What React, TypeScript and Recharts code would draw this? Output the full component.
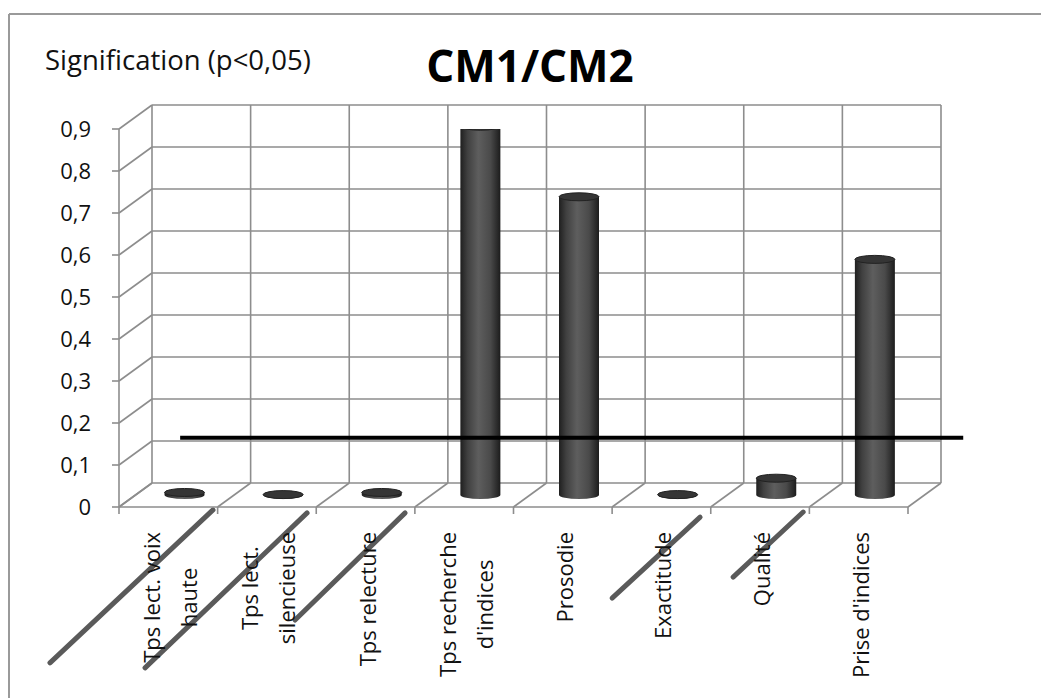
import React from 'react';
import { ComposedChart, Bar, XAxis, YAxis, CartesianGrid, ReferenceLine } from 'recharts';

// ---------- data ----------
const categoryLines: string[][] = [
  ['Tps lect. voix', 'haute'],
  ['Tps lect.', 'silencieuse'],
  ['Tps relecture'],
  ['Tps recherche', "d'indices"],
  ['Prosodie'],
  ['Exactitude'],
  ['Qualité'],
  ["Prise d'indices"],
];
const categories = categoryLines.map((l) => l.join(' '));
const values = [0.006, 0.001, 0.006, 0.878, 0.71, 0.001, 0.04, 0.561];
const yTicks = [0, 0.1, 0.2, 0.3, 0.4, 0.5, 0.6, 0.7, 0.8, 0.9];
const boundaryTicks = [0, 1, 2, 3, 4, 5, 6, 7, 8];
const positions = [0.5, 1.5, 2.5, 3.5, 4.5, 5.5, 6.5, 7.5];
const threshold = { y: 0.165, from: 0.62, to: 8.56 };
const strikeLines = [
  { x1: 0.953, y1: -0.007, x2: -0.7, y2: -0.371 },
  { x1: 1.907, y1: -0.014, x2: 0.264, y2: -0.383 },
  { x1: 2.901, y1: -0.014, x2: 1.785, y2: -0.269 },
  { x1: 5.892, y1: -0.024, x2: 5.0, y2: -0.217 },
  { x1: 6.937, y1: -0.012, x2: 6.227, y2: -0.167 },
];
const title = 'CM1/CM2';
const yTitle = 'Signification (p<0,05)';

const data = categories.map((name, i) => ({ name, pos: positions[i], value: values[i] }));

// ---------- style ----------
const W = 1041;
const H = 698;
const DX = 33;
const DY = -24;
const GRID = '#8d8d8d';
const FONT = "'Open Sans', 'DejaVu Sans', sans-serif";
const LABEL_SIZE = 22;
const NUM_AXIS = 'a_num';
const CAT_AXIS = 'b_cat';

let measureCtx: CanvasRenderingContext2D | null = null;
function textWidth(s: string): number {
  try {
    if (!measureCtx) measureCtx = document.createElement('canvas').getContext('2d');
    if (measureCtx) {
      measureCtx.font = `${LABEL_SIZE}px 'Open Sans'`;
      return measureCtx.measureText(s).width;
    }
  } catch (e) {}
  return s.length * LABEL_SIZE * 0.5;
}

const HLine = (p: any) => {
  const { x1, y1, x2, y2 } = p;
  return (
    <g key={p.key}>
      <line x1={x1 + DX} y1={y1 + DY} x2={x2 + DX} y2={y2 + DY} stroke={GRID} strokeWidth={1.6} />
      <line x1={x1} y1={y1} x2={x1 + DX} y2={y1 + DY} stroke={GRID} strokeWidth={1.6} />
    </g>
  );
};

const VLine = (p: any) => {
  const { x1, y1, x2, y2 } = p;
  return (
    <g key={p.key}>
      <line x1={x1 + DX} y1={y1 + DY} x2={x2 + DX} y2={y2 + DY} stroke={GRID} strokeWidth={1.6} />
      <line x1={x2} y1={y2} x2={x2 + DX} y2={y2 + DY} stroke={GRID} strokeWidth={1.6} />
    </g>
  );
};

const Cylinder = (props: any) => {
  const { x, y, width, height, index } = props;
  const cx = x + width / 2 + DX / 2;
  const rx = width / 2;
  const ry = 4;
  const top = y + DY / 2;
  const bottom = y + height + DY / 2;
  const id = `cyl-grad-${index}`;
  return (
    <g>
      <defs>
        <linearGradient id={id} x1="0" y1="0" x2="1" y2="0">
          <stop offset="0%" stopColor="#1f1f1f" />
          <stop offset="18%" stopColor="#404040" />
          <stop offset="45%" stopColor="#5e5e5e" />
          <stop offset="75%" stopColor="#4a4a4a" />
          <stop offset="100%" stopColor="#1c1c1c" />
        </linearGradient>
      </defs>
      <path
        d={`M${cx - rx},${top} L${cx - rx},${bottom} A${rx},${ry} 0 0 0 ${cx + rx},${bottom} L${cx + rx},${top} Z`}
        fill={`url(#${id})`}
      />
      <ellipse cx={cx} cy={top} rx={rx} ry={ry} fill="#353535" stroke="#222" strokeWidth={1} />
    </g>
  );
};

const CategoryTick = (props: any) => {
  const { x, y, payload } = props;
  const idx = categories.indexOf(payload.value);
  const lines = idx >= 0 ? categoryLines[idx] : [String(payload.value)];
  const top = y + 15;
  const maxW = Math.max(...lines.map(textWidth));
  const centerY = top + maxW / 2;
  const n = lines.length;
  return (
    <g>
      {lines.map((line, i) => {
        const colX = x + 3 + (i - (n - 1) / 2) * 37 + 7;
        return (
          <text
            key={i}
            transform={`translate(${colX},${centerY}) rotate(-90)`}
            textAnchor="middle"
            fontSize={LABEL_SIZE}
            fontFamily={FONT}
            fill="#111"
          >
            {line}
          </text>
        );
      })}
    </g>
  );
};

export default function App() {
  return (
    <div style={{ position: 'absolute', left: 0, top: 0, width: W, height: H, background: '#fff' }}>
      <ComposedChart
        width={W}
        height={H}
        data={data}
        margin={{ top: 129, right: 133, bottom: 0, left: 0 }}
      >
        <CartesianGrid xAxisId={NUM_AXIS} horizontal={HLine} vertical={VLine} />
        <XAxis
          xAxisId={NUM_AXIS}
          type="number"
          dataKey="pos"
          domain={[0, 8]}
          ticks={boundaryTicks}
          tickFormatter={() => ''}
          height={10}
          tickSize={7}
          stroke={GRID}
          axisLine={{ stroke: GRID, strokeWidth: 1.6 }}
          tickLine={{ stroke: GRID, strokeWidth: 1.6 }}
        />
        <XAxis
          xAxisId={CAT_AXIS}
          dataKey="name"
          type="category"
          height={181}
          axisLine={false}
          tickLine={false}
          tickSize={0}
          tickMargin={0}
          interval={0}
          tick={<CategoryTick />}
        />
        <YAxis
          width={119}
          domain={[0, 0.9]}
          ticks={yTicks}
          tickSize={7}
          tickMargin={21}
          tickFormatter={(v: number) => String(v).replace('.', ',')}
          tick={{ fontSize: 22, fontFamily: FONT, fill: '#111' }}
          axisLine={{ stroke: GRID, strokeWidth: 1.6 }}
          tickLine={{ stroke: GRID, strokeWidth: 1.6 }}
          allowDataOverflow
        />
        <Bar
          xAxisId={CAT_AXIS}
          dataKey="value"
          barSize={40}
          fill="#4a4a4a"
          shape={<Cylinder />}
          isAnimationActive={false}
        />
        <ReferenceLine
          xAxisId={NUM_AXIS}
          segment={[{ x: threshold.from, y: threshold.y }, { x: threshold.to, y: threshold.y }]}
          stroke="#000"
          strokeWidth={4}
          ifOverflow="visible"
        />
        {strikeLines.map((s, i) => (
          <ReferenceLine
            key={i}
            xAxisId={NUM_AXIS}
            segment={[{ x: s.x1, y: s.y1 }, { x: s.x2, y: s.y2 }]}
            stroke="#5a5a5a"
            strokeWidth={5}
            strokeLinecap="round"
            ifOverflow="visible"
          />
        ))}
      </ComposedChart>
      <svg
        width={W}
        height={H}
        style={{ position: 'absolute', left: 0, top: 0, pointerEvents: 'none' }}
      >
        <line x1={9} y1={14} x2={W} y2={14} stroke="#9a9a9a" strokeWidth={2} />
        <line x1={9} y1={14} x2={9} y2={H} stroke="#9a9a9a" strokeWidth={2} />
        <text x={45} y={70} fontSize={27.5} fontFamily={FONT} fill="#111">
          {yTitle}
        </text>
        <text x={530} y={82} fontSize={44} fontWeight="bold" fontFamily={FONT} fill="#000" textAnchor="middle">
          {title}
        </text>
      </svg>
    </div>
  );
}
